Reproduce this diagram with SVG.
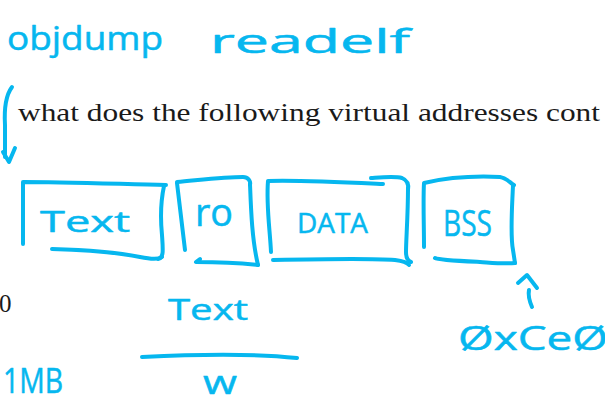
<svg xmlns="http://www.w3.org/2000/svg" width="605" height="403" viewBox="0 0 605 403">
<style>
.ink{fill:none;stroke:#06b7ef;stroke-width:4;stroke-linecap:round;stroke-linejoin:round}
.hw{font-family:"Open Sans","DejaVu Sans",sans-serif;fill:#06b7ef;stroke:#06b7ef;stroke-width:0.5;stroke-linejoin:round}
.pr{font-family:"Liberation Serif","DejaVu Serif",serif;fill:#1a1a1a;font-size:25px}
</style>
<rect width="605" height="403" fill="#ffffff"/>
<text class="hw" x="7" y="50" font-size="32" textLength="156" lengthAdjust="spacingAndGlyphs">objdump</text>
<text class="hw" x="210" y="53" font-size="32" textLength="200" lengthAdjust="spacingAndGlyphs">readelf</text>
<text class="pr" x="18" y="121" textLength="582" lengthAdjust="spacingAndGlyphs">what does the following virtual addresses cont</text>
<text class="pr" x="-1" y="312">0</text>
<g id="node-text">
<path class="ink" d="M23,244 L23,182 C60,182 120,184 166,185"/>
<path class="ink" d="M164,186 C161,200 160,215 162,235 C163,250 164,258 158,259"/>
<path class="ink" d="M52,249 C90,250 120,253 140,257 C150,259 158,260 162,257"/>
<text class="hw" x="40" y="232" font-size="30" textLength="90" lengthAdjust="spacingAndGlyphs">Text</text>
</g>
<g id="node-ro">
<path class="ink" d="M185,250 L177,183"/>
<path class="ink" d="M177,182 C200,180 225,177 243,177 C248,177 251,181 250,185"/>
<path class="ink" d="M250,184 C251,210 252,240 258,265"/>
<path class="ink" d="M200,259 L196,262 C220,262 240,263 258,265"/>
<text class="hw" x="195" y="226" font-size="38" textLength="38" lengthAdjust="spacingAndGlyphs">ro</text>
</g>
<g id="node-data">
<path class="ink" d="M271,252 C270,230 266,205 268,181 C300,180 340,182 383,184"/>
<path class="ink" d="M371,178 C385,177 395,176 402,178 C407,180 409,184 408,190"/>
<path class="ink" d="M408,188 C408,215 406,240 406,252 C406,258 408,261 411,262"/>
<path class="ink" d="M273,260 C320,259 370,258 395,260 C402,261 407,262 409,265"/>
<text class="hw" x="297" y="233" font-size="27" textLength="71" lengthAdjust="spacingAndGlyphs">DATA</text>
</g>
<g id="node-bss">
<path class="ink" d="M424,247 C424,225 423,200 424,183 C450,177 480,176 500,177 C507,178 510,183 514,185"/>
<path class="ink" d="M513,185 C512,210 510,235 513,250 L515,263"/>
<path class="ink" d="M435,258 C438,260 460,261 480,262 C495,263 505,264 515,263"/>
<text class="hw" x="443" y="236" font-size="36" textLength="49" lengthAdjust="spacingAndGlyphs">BSS</text>
</g>
<g id="connectors">
<path class="ink" d="M12,87 C6,95 4,108 5,125 L5,157"/>
<path class="ink" d="M3,152 L9,162 L15,148"/>
<path class="ink" d="M532,307 C529,300 528,295 529,290"/>
<path class="ink" d="M518,283 L527,275 L537,288"/>
</g>
<path class="ink" d="M142,357 C200,354 260,354 297,358"/>
<text class="hw" x="168" y="320" font-size="30" textLength="80" lengthAdjust="spacingAndGlyphs">Text</text>
<text class="hw" x="203" y="394" font-size="32" textLength="34" lengthAdjust="spacingAndGlyphs">w</text>
<text class="hw" x="3" y="393" font-size="34" textLength="60" lengthAdjust="spacingAndGlyphs">1MB</text>
<text class="hw" x="458" y="350" font-size="33" textLength="150" lengthAdjust="spacingAndGlyphs">ØxCeØ</text>
</svg>
